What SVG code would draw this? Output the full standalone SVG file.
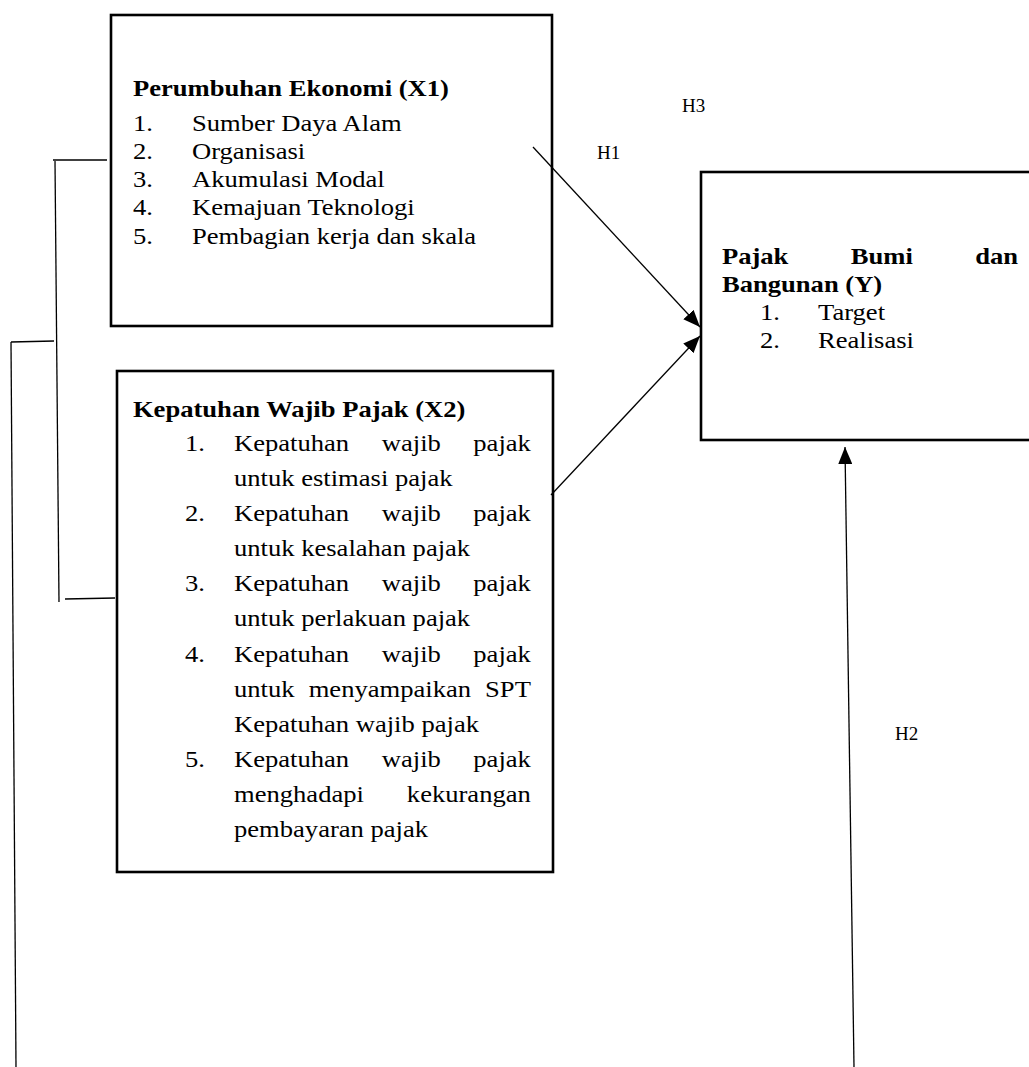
<svg xmlns="http://www.w3.org/2000/svg" width="1029" height="1067" viewBox="0 0 1029 1067">
<style>
.box{fill:none;stroke:#000;stroke-width:2.6}
.ln{fill:none;stroke:#000;stroke-width:1.3}
.t{font-family:"Liberation Serif","Times New Roman",serif;font-size:24px;fill:#000}
.b{font-weight:bold}
.lbl{font-family:"Liberation Serif","Times New Roman",serif;font-size:19px;fill:#000}
</style>
<defs>
<marker id="ah" markerUnits="userSpaceOnUse" markerWidth="18" markerHeight="14" refX="17" refY="7" orient="auto">
<path d="M0,0 L17,7 L0,14 z" fill="#000"/>
</marker>
</defs>
<rect width="1029" height="1067" fill="#fff"/>
<g id="connectors">
<line class="ln" x1="533" y1="147" x2="700" y2="327" marker-end="url(#ah)"/>
<line class="ln" x1="551" y1="495" x2="700" y2="336" marker-end="url(#ah)"/>
<line class="ln" x1="854" y1="1067" x2="845" y2="447" marker-end="url(#ah)"/>
<line class="ln" x1="53" y1="160" x2="107" y2="160"/>
<line class="ln" x1="55" y1="161" x2="59" y2="602"/>
<line class="ln" x1="65" y1="599" x2="115" y2="598"/>
<line class="ln" x1="11" y1="342" x2="54" y2="341"/>
<line class="ln" x1="11" y1="342" x2="16" y2="1067"/>
</g>
<g id="node-x1">
<rect class="box" x="111" y="15" width="441" height="311"/>
<g transform="scale(1.108 1)">
<text class="t b" x="120" y="96">Perumbuhan Ekonomi (X1)</text>
<text class="t" y="131"><tspan x="120">1.</tspan><tspan x="173.3">Sumber Daya Alam</tspan></text>
<text class="t" y="159"><tspan x="120">2.</tspan><tspan x="173.3">Organisasi</tspan></text>
<text class="t" y="187"><tspan x="120">3.</tspan><tspan x="173.3">Akumulasi Modal</tspan></text>
<text class="t" y="215"><tspan x="120">4.</tspan><tspan x="173.3">Kemajuan Teknologi</tspan></text>
<text class="t" y="244"><tspan x="120">5.</tspan><tspan x="173.3">Pembagian kerja dan skala</tspan></text>
</g>
</g>
<g id="node-x2">
<rect class="box" x="117" y="371" width="436" height="501"/>
<g transform="scale(1.108 1)">
<text class="t b" x="120" y="417">Kepatuhan Wajib Pajak (X2)</text>
<text class="t" y="451"><tspan x="167">1.</tspan><tspan x="211.2">Kepatuhan </tspan><tspan x="344.6">wajib </tspan><tspan x="427.2">pajak</tspan></text>
<text class="t" x="211.2" y="486">untuk estimasi pajak</text>
<text class="t" y="521"><tspan x="167">2.</tspan><tspan x="211.2">Kepatuhan </tspan><tspan x="344.6">wajib </tspan><tspan x="427.2">pajak</tspan></text>
<text class="t" x="211.2" y="556">untuk kesalahan pajak</text>
<text class="t" y="591"><tspan x="167">3.</tspan><tspan x="211.2">Kepatuhan </tspan><tspan x="344.6">wajib </tspan><tspan x="427.2">pajak</tspan></text>
<text class="t" x="211.2" y="626">untuk perlakuan pajak</text>
<text class="t" y="662"><tspan x="167">4.</tspan><tspan x="211.2">Kepatuhan </tspan><tspan x="344.6">wajib </tspan><tspan x="427.2">pajak</tspan></text>
<text class="t" y="697"><tspan x="211.2">untuk </tspan><tspan x="278.6">menyampaikan </tspan><tspan x="437.8">SPT</tspan></text>
<text class="t" x="211.2" y="732">Kepatuhan wajib pajak</text>
<text class="t" y="767"><tspan x="167">5.</tspan><tspan x="211.2">Kepatuhan </tspan><tspan x="344.6">wajib </tspan><tspan x="427.2">pajak</tspan></text>
<text class="t" y="802"><tspan x="211.2">menghadapi </tspan><tspan x="367.2">kekurangan</tspan></text>
<text class="t" x="211.2" y="837">pembayaran pajak</text>
</g>
</g>
<g id="node-y">
<rect class="box" x="701" y="172" width="340" height="268"/>
<g transform="scale(1.108 1)">
<text class="t b" y="264"><tspan x="651.6">Pajak </tspan><tspan x="767.9">Bumi </tspan><tspan x="880.1">dan</tspan></text>
<text class="t b" x="651.6" y="292">Bangunan (Y)</text>
<text class="t" y="320"><tspan x="685.9">1.</tspan><tspan x="738.3">Target</tspan></text>
<text class="t" y="348"><tspan x="685.9">2.</tspan><tspan x="738.3">Realisasi</tspan></text>
</g>
</g>
<g id="labels">
<text class="lbl" x="682" y="112">H3</text>
<text class="lbl" x="597" y="159">H1</text>
<text class="lbl" x="895" y="740">H2</text>
</g>
</svg>
